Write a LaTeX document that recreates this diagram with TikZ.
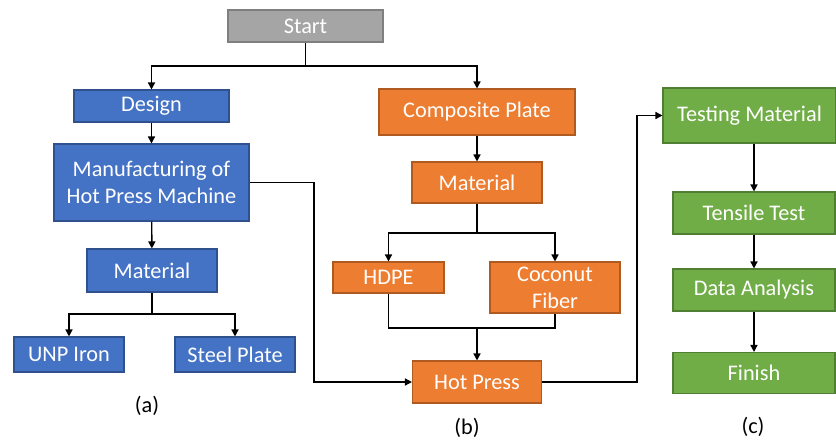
\documentclass[tikz,border=0pt]{standalone}
\usepackage{fontspec}
\setmainfont{Carlito}
\usetikzlibrary{arrows.meta}

\definecolor{grigio}{HTML}{A5A5A5}
\definecolor{grigiobordo}{HTML}{7F7F7F}
\definecolor{blu}{HTML}{4472C4}
\definecolor{blubordo}{HTML}{2F528F}
\definecolor{arancio}{HTML}{ED7D31}
\definecolor{aranciobordo}{HTML}{AE5A21}
\definecolor{verde}{HTML}{70AD47}
\definecolor{verdebordo}{HTML}{507E32}

\begin{document}
\begin{tikzpicture}[
			x=0.02cm, y=-0.02cm,
			font=\fontsize{12.7}{15.3}\selectfont,
			blocco/.style={rectangle, inner sep=0pt, align=center, text=white, line width=0.6pt},
			grigia/.style={blocco, fill=grigio, draw=grigiobordo},
			blua/.style={blocco, fill=blu, draw=blubordo},
			aran/.style={blocco, fill=arancio, draw=aranciobordo},
			verd/.style={blocco, fill=verde, draw=verdebordo},
			freccia/.style={line width=0.8pt, black, -{Triangle[length=4pt,width=4pt]}},
			linea/.style={line width=0.8pt, black},
			etich/.style={black},
			]
			
			\useasboundingbox (0,0) rectangle (836,440);
			
			\node[grigia, minimum width=3.1cm, minimum height=0.64cm] (start) at (305.5,26) {Start};
			\coordinate (jS) at (306,66);
			
			%% ── (a) Hot Press Machine ──────────────────────────────
			\node[blua, minimum width=3.1cm, minimum height=0.64cm] (design) at (151.5,106) {Design};
			\node[blua, minimum width=3.9cm, minimum height=1.54cm] (manuf) at (151.5,182.5) {Manufacturing of\\Hot Press Machine};
			\node[blua, minimum width=2.6cm, minimum height=0.86cm] (matA) at (152,270.5) {Material};
			\node[blua, minimum width=2.2cm, minimum height=0.70cm] (unp) at (69,354.5) {UNP Iron};
			\node[blua, minimum width=2.4cm, minimum height=0.70cm] (steel) at (235,354.5) {Steel Plate};
			\coordinate (jA) at (152,314);
			\coordinate (jM) at (314,182.5);
			\node[etich] (la) at (147,406) {(a)};
			
			%% ── (b) Composite Plate ────────────────────────────────
			\node[aran, minimum width=3.92cm, minimum height=0.92cm] (comp) at (477,112) {Composite Plate};
			\node[aran, minimum width=2.6cm, minimum height=0.82cm] (matB) at (477,182.5) {Material};
			\node[aran, minimum width=2.22cm, minimum height=0.62cm] (hdpe) at (388.5,277.5) {HDPE};
			\node[aran, minimum width=2.6cm, minimum height=1.02cm] (coco) at (555,287.5) {Coconut\\Fiber};
			\node[aran, minimum width=2.58cm, minimum height=0.84cm] (hot) at (477,382) {Hot Press};
			\coordinate (jB) at (477,233);
			\coordinate (jH) at (477,328);
			\coordinate (jP) at (637,382);
			\node[etich] (lb) at (467,428) {(b)};
			
			%% ── (c) Testing ────────────────────────────────────────
			\node[verd, minimum width=3.46cm, minimum height=1.1cm] (test) at (749.5,115.5) {Testing Material};
			\node[verd, minimum width=3.24cm, minimum height=0.84cm] (tens) at (754,213) {Tensile Test};
			\node[verd, minimum width=3.24cm, minimum height=0.84cm] (data) at (754,290) {Data Analysis};
			\node[verd, minimum width=3.24cm, minimum height=0.82cm] (fin) at (754,373) {Finish};
			\node[etich] (lc) at (753,427) {(c)};
			
			%% connessioni
			\draw[linea](start.south)--(start.south|-jS);
			\draw[freccia](start.south|-jS)-|(design.north);
			\draw[freccia](start.south|-jS)-|(comp.north);
			\draw[freccia](design)--(manuf);
			\draw[freccia](manuf)--(matA);
			\draw[linea](matA.south)--(jA);
			\draw[freccia](jA)-|(unp.north);
			\draw[freccia](jA)-|(steel.north);
			\draw[freccia](manuf.east)--(jM)|-(hot.west);
			\draw[freccia](comp)--(matB);
			\draw[linea](matB.south)--(jB);
			\draw[freccia](jB)-|(hdpe.north);
			\draw[freccia](jB)-|(coco.north);
			\draw[linea](hdpe.south)|-(jH)-|(coco.south);
			\draw[freccia](jH)--(hot.north);
			\draw[freccia](hot.east)--(jP)|-(test.west);
			\draw[freccia](tens.north|-test.south)--(tens.north);
			\draw[freccia](tens)--(data);
			\draw[freccia](data)--(fin);
			
	\end{tikzpicture}
\end{document}
